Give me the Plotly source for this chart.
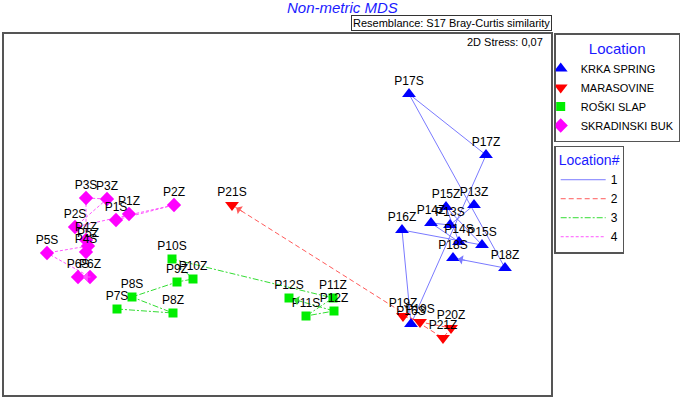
import math
import plotly.graph_objects as go

# ---- data (MDS coordinates) ----
krka_labels = ["P13Z", "P13S", "P14Z", "P14S", "P15Z", "P15S", "P16Z", "P16S", "P17Z", "P17S", "P18Z", "P18S"]
krka_x = [1.96, 1.72, 1.53, 1.81, 1.68, 2.04, 1.24, 1.33, 2.08, 1.31, 2.27, 1.75]
krka_y = [0.10, -0.10, -0.08, -0.27, 0.08, -0.30, -0.15, -1.09, 0.60, 1.21, -0.53, -0.43]

mara_labels = ["P19Z", "P19S", "P20Z", "P21Z", "P21S"]
mara_x = [1.25, 1.42, 1.73, 1.65, -0.46]
mara_y = [-1.01, -1.07, -1.13, -1.23, 0.10]

rosk_labels = ["P7S", "P8Z", "P8S", "P9Z", "P10Z", "P10S", "P11Z", "P11S", "P12Z", "P12S"]
rosk_x = [-1.61, -1.05, -1.46, -1.01, -0.85, -1.06, 0.55, 0.28, 0.56, 0.11]
rosk_y = [-0.94, -0.98, -0.82, -0.67, -0.64, -0.44, -0.83, -1.01, -0.96, -0.83]

skra_labels = ["P1Z", "P1S", "P2Z", "P2S", "P3Z", "P3S", "P4Z", "P4S", "P5Z", "P5S", "P6Z", "P6S"]
skra_x = [-1.49, -1.62, -1.04, -2.03, -1.71, -1.92, -1.92, -1.92, -1.90, -2.31, -1.88, -2.00]
skra_y = [0.01, -0.05, 0.10, -0.12, 0.16, 0.17, -0.25, -0.37, -0.31, -0.38, -0.62, -0.62]

location_names = ["KRKA SPRING", "MARASOVINE", "ROŠKI SLAP", "SKRADINSKI BUK"]
trajectory_names = ["1", "2", "3", "4"]
stress_text = "2D Stress: 0,07"
resemblance_text = "Resemblance: S17 Bray-Curtis similarity"
title_text = "Non-metric MDS"

# ---- styles ----
groups = [
    (krka_labels, krka_x, krka_y, "#0000ff", "triangle-up", 12, "#7a7aff", "solid"),
    (mara_labels, mara_x, mara_y, "#ff0000", "triangle-down", 12, "#ff5a5a", "5px,3px"),
    (rosk_labels, rosk_x, rosk_y, "#00ee00", "square", 9, "#33dd33", "6px,2px,2px,2px"),
    (skra_labels, skra_x, skra_y, "#ff00ff", "diamond", 11, "#ff55ff", "3px,2px"),
]
FONT = "Liberation Sans, Arial, sans-serif"
X_RANGE = [-2.75, 2.74]
Y_RANGE = [-1.81, 1.82]
W, H = 685, 401
M = dict(l=3, r=133, t=33, b=5)
px_per_x = (W - M["l"] - M["r"]) / (X_RANGE[1] - X_RANGE[0])
px_per_y = (H - M["t"] - M["b"]) / (Y_RANGE[1] - Y_RANGE[0])

fig = go.Figure()

# trajectory lines (legend 2)
for (labels, xs, ys, col, sym, sz, lcol, dash), tname in zip(groups, trajectory_names):
    fig.add_trace(go.Scatter(
        x=xs, y=ys, mode="lines", name=tname, legend="legend2",
        line=dict(color=lcol, width=1, dash=dash), hoverinfo="skip"))

# markers (legend 1)
for (labels, xs, ys, col, sym, sz, lcol, dash), lname in zip(groups, location_names):
    fig.add_trace(go.Scatter(
        x=xs, y=ys, mode="markers", name=lname, legend="legend",
        marker=dict(color=col, symbol=sym, size=sz, line=dict(width=0))))

# labels
for (labels, xs, ys, col, sym, sz, lcol, dash) in groups:
    fig.add_trace(go.Scatter(
        x=xs, y=ys, mode="markers+text", text=labels, textposition="top center",
        marker=dict(size=8, opacity=0),
        textfont=dict(family=FONT, size=12, color="black"),
        showlegend=False, cliponaxis=False, hoverinfo="skip"))

# short arrow heads at the end of each trajectory (direction from last segment)
for (labels, xs, ys, col, sym, sz, lcol, dash) in groups:
    dxp = (xs[-2] - xs[-1]) * px_per_x
    dyp = -(ys[-2] - ys[-1]) * px_per_y
    n = math.hypot(dxp, dyp)
    fig.add_annotation(
        x=xs[-1], y=ys[-1], ax=dxp / n * 14, ay=dyp / n * 14,
        xref="x", yref="y",
        text="", showarrow=True, arrowhead=1, arrowsize=1.6,
        arrowwidth=1, arrowcolor=lcol, standoff=5)

# frame
fig.add_shape(type="rect", xref="paper", yref="paper", x0=0, y0=0, x1=1, y1=1,
              line=dict(color="#555555", width=2))

fig.add_annotation(xref="paper", yref="paper", x=0.987, y=0.975,
                   xanchor="right", yanchor="middle", showarrow=False,
                   text=stress_text, font=dict(family=FONT, size=11, color="black"))
fig.add_annotation(xref="paper", yref="paper", x=1.0, y=1.0275,
                   xanchor="right", yanchor="middle", showarrow=False,
                   text=resemblance_text, font=dict(family=FONT, size=11, color="black"),
                   bordercolor="#333333", borderwidth=1, borderpad=1, bgcolor="white")
fig.add_annotation(xref="paper", yref="paper", x=0.619, y=1.0715,
                   xanchor="center", yanchor="middle", showarrow=False,
                   text="<i>" + title_text + "</i>",
                   font=dict(family=FONT, size=15, color="#1a1aff"))

fig.update_layout(
    width=W, height=H,
    margin=dict(**M, autoexpand=False),
    paper_bgcolor="white", plot_bgcolor="white",
    xaxis=dict(visible=False, range=X_RANGE),
    yaxis=dict(visible=False, range=Y_RANGE),
    legend=dict(
        x=1.004, y=1.0, xanchor="left", yanchor="top",
        bordercolor="#555555", borderwidth=1.5, bgcolor="white",
        font=dict(family=FONT, size=11, color="black"),
        title=dict(text="Location", side="top center",
                   font=dict(family=FONT, size=15, color="#1a1aff")),
        itemwidth=30, indentation=-15, tracegroupgap=0),
    legend2=dict(
        x=1.004, y=0.69, xanchor="left", yanchor="top",
        bordercolor="#555555", borderwidth=1.5, bgcolor="white",
        font=dict(family=FONT, size=12, color="black"),
        title=dict(text="Location#", side="top center",
                   font=dict(family=FONT, size=14, color="#1a1aff")),
        itemwidth=45, tracegroupgap=0),
    font=dict(family=FONT),
)

fig.write_html("out.html",
               config={"displayModeBar": False},
               post_script="document.body.style.margin='0px';document.body.style.overflow='hidden';")
